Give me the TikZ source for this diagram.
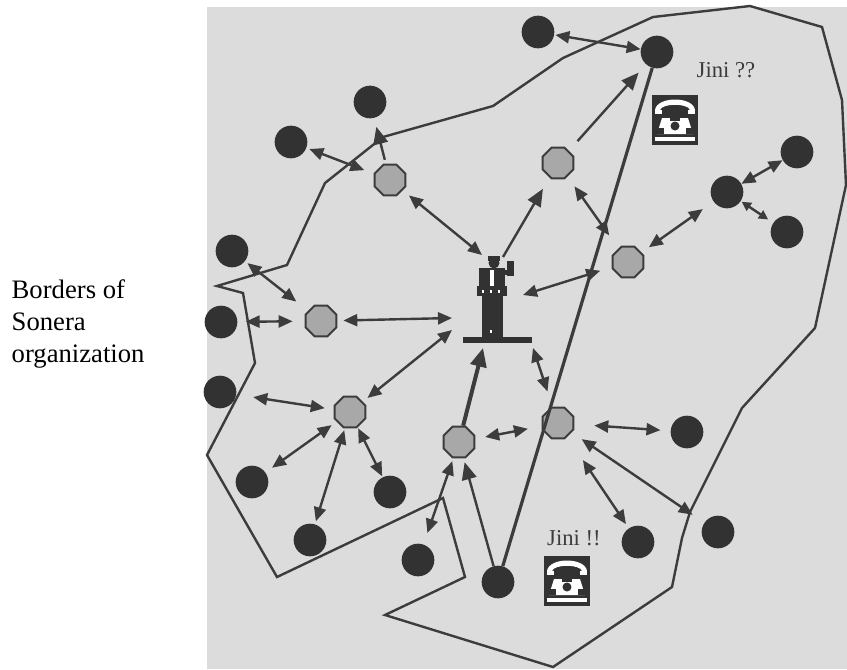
\documentclass[tikz,border=0pt]{standalone}
\usepackage{fontspec}
\setmainfont{Liberation Serif}
\usetikzlibrary{arrows.meta,shapes.geometric}

\definecolor{paper}{RGB}{220,220,220}
\definecolor{ink}{RGB}{60,60,60}
\definecolor{hostfill}{RGB}{50,50,50}
\definecolor{gwfill}{RGB}{168,168,168}

\tikzset{
	host/.style={circle, fill=hostfill, minimum size=24.5pt, inner sep=0pt},
	gateway/.style={regular polygon, regular polygon sides=8, fill=gwfill, draw=ink,
		line width=1.4pt, minimum size=25pt, inner sep=0pt},
	link/.style={draw=ink, line width=1.8pt, >={Triangle[length=10.5pt,width=9pt]}},
	smalltip/.style={>={Triangle[length=7pt,width=7pt]}},
	bigtip/.style={>={Triangle[length=13pt,width=11pt]}},
	push/.style={draw=ink, line width=3pt, >={Triangle[length=14pt,width=12pt]}},
	gap/.style 2 args={shorten <=#1*0.75pt, shorten >=#2*0.75pt},
	border/.style={draw=ink, line width=1.8pt, line join=miter},
	jini/.style={text=ink, font=\fontsize{17}{20}\selectfont},
}

% telephone icon, centred on (#1,#2)
\newcommand{\jiniphone}[2]{
	\begin{scope}[shift={(#1,#2)}]
		\fill[hostfill] (-23,-25) rectangle (23,25);
		% handset
		\fill[white] (-20,-10) .. controls (-18,-24) and (18,-24) .. (20,-10) -- (15,-10)
			.. controls (13,-17) and (-13,-17) .. (-15,-10) -- cycle;
		\fill[white] (-20,-10) rectangle (-13,-6);
		\fill[white] (13,-10) rectangle (20,-6);
		% body with dial
		\fill[white] (-13,-2) -- (13,-2) -- (18,14) -- (-18,14) -- cycle;
		\fill[hostfill] (-5,-2) rectangle (5,1);
		\fill[hostfill] (0,6) circle (4.5);
		\fill[hostfill] (-18,8) rectangle (-11,14);
		\fill[hostfill] (11,8) rectangle (18,14);
		\fill[white] (-20,17) rectangle (20,21);
	\end{scope}
}

\begin{document}
\begin{tikzpicture}[x=0.75pt,y=0.75pt,yscale=-1,xscale=1]
\useasboundingbox (0,0) rectangle (847,669);
\fill[paper] (207,7) rectangle (847,669);

% border of the organization
\draw[border] (493,106) -- (563,58) -- (653,17) -- (750,6) -- (822,27) -- (842,100) -- (846,185)
	-- (815,328) -- (742,408) -- (690,512) -- (682,538) -- (672,587) -- (553,667) -- (385,615)
	-- (465,577) -- (443,498) -- (277,577) -- (207,455) -- (255,363) -- (243,293) -- (217,286)
	-- (287,265) -- (325,183) -- (383,137) -- cycle;

% speaker at the podium
\fill[hostfill] (494,263) circle (5.5);
\fill[hostfill] (488,256) rectangle (500,261);
\fill[hostfill] (479,268) rectangle (505,290);
\fill[white] (490,270) rectangle (494,286);
\fill[hostfill] (500,270) rectangle (513,275);
\fill[hostfill] (507,261) rectangle (514,276);
\fill[hostfill] (477,286) rectangle (507,296);
\fill[white] (482,290) rectangle (484,293);
\fill[white] (490,290) rectangle (492,293);
\fill[white] (498,290) rectangle (500,293);
\fill[hostfill] (482,296) rectangle (503,338);
\fill[white] (490,330) rectangle (492,333);
\fill[hostfill] (463,337) rectangle (532,343);
\coordinate (spA) at (482,255);
\coordinate (spB) at (503,257);
\coordinate (spC) at (523,295);
\coordinate (spD) at (452,318);
\coordinate (spE) at (452,330);
\coordinate (spF) at (483,348);
\coordinate (spG) at (533,348);

% hosts
\node[host] (c1) at (538,32) {};
\node[host] (c2) at (657,52) {};
\node[host] (c3) at (370,102) {};
\node[host] (c4) at (291,142) {};
\node[host] (c5) at (797,152) {};
\node[host] (c6) at (727,192) {};
\node[host] (c7) at (787,232) {};
\node[host] (c8) at (232,251) {};
\node[host] (c9) at (221,322) {};
\node[host] (c10) at (220,392) {};
\node[host] (c11) at (687,432) {};
\node[host] (c12) at (252,482) {};
\node[host] (c13) at (390,492) {};
\node[host] (c14) at (310,540) {};
\node[host] (c15) at (718,532) {};
\node[host] (c16) at (638,542) {};
\node[host] (c17) at (418,560) {};
\node[host] (c18) at (498,582) {};

% gateways
\node[gateway] (s1) at (390,180) {};
\node[gateway] (s2) at (558,163) {};
\node[gateway] (s3) at (628,262) {};
\node[gateway] (s4) at (321,321) {};
\node[gateway] (s5) at (350,412) {};
\node[gateway] (s6) at (459,442) {};
\node[gateway] (s7) at (558,423) {};

\draw[border, line width=2.4pt] (c18) -- (c2);

% links
\draw[link,<->,gap={1}{0}] (c1) -- (c2);
\draw[link,bigtip,->,gap={13}{11}] (s2) -- (c2);
\draw[link,bigtip,->,gap={0}{13}] (spB) -- (s2);
\draw[link,<->,gap={12}{16}] (s2) -- (s3);
\draw[link,<->,gap={9}{13}] (s3) -- (c6);
\draw[link,<->,gap={0}{0}] (c6) -- (c5);
\draw[link,smalltip,<->,gap={1}{6}] (c6) -- (c7);
\draw[link,<->,gap={0}{12}] (spC) -- (s3);
\draw[link,<->,gap={3}{10}] (c4) -- (s1);
\draw[link,<->,gap={8}{0}] (s1) -- (spA);
\draw[link,bigtip,->,gap={4}{9}] (s1) -- (c3);
\draw[link,<->,gap={3}{15}] (c8) -- (s4);
\draw[link,<->,gap={8}{12}] (c9) -- (s4);
\draw[link,<->,gap={6}{0}] (s4) -- (spD);
\draw[link,<->,gap={6}{0}] (s5) -- (spE);
\draw[link,<->,gap={17}{9}] (c10) -- (s5);
\draw[link,<->,gap={6}{8}] (s5) -- (c12);
\draw[link,<->,gap={2}{3}] (s5) -- (c14);
\draw[link,<->,gap={1}{1}] (s5) -- (c13);
\draw[push,->,gap={0}{0}] (s6) -- (spF);
\draw[link,<->,gap={10}{14}] (s6) -- (s7);
\draw[link,<->,gap={3}{12}] (s6) -- (c17);
\draw[link,bigtip,->,gap={0}{4}] (c18) -- (s6);
\draw[link,<->,gap={0}{16}] (spG) -- (s7);
\draw[link,<->,gap={20}{10}] (s7) -- (c11);
\draw[link,<->,gap={12}{14}] (s7) -- (c15);
\draw[link,<->,gap={28}{5}] (s7) -- (c16);

% jini phones
\jiniphone{675}{120}
\jiniphone{567}{581}
\node[jini] (jiniQ) at (726,70) {Jini ??};
\node[jini] (jiniX) at (574,538) {Jini !!};

\node[anchor=west, align=left, font=\fontsize{20}{24}\selectfont] (caption) at (7,324)
	{Borders of\\Sonera\\organization};

\end{tikzpicture}
\end{document}
